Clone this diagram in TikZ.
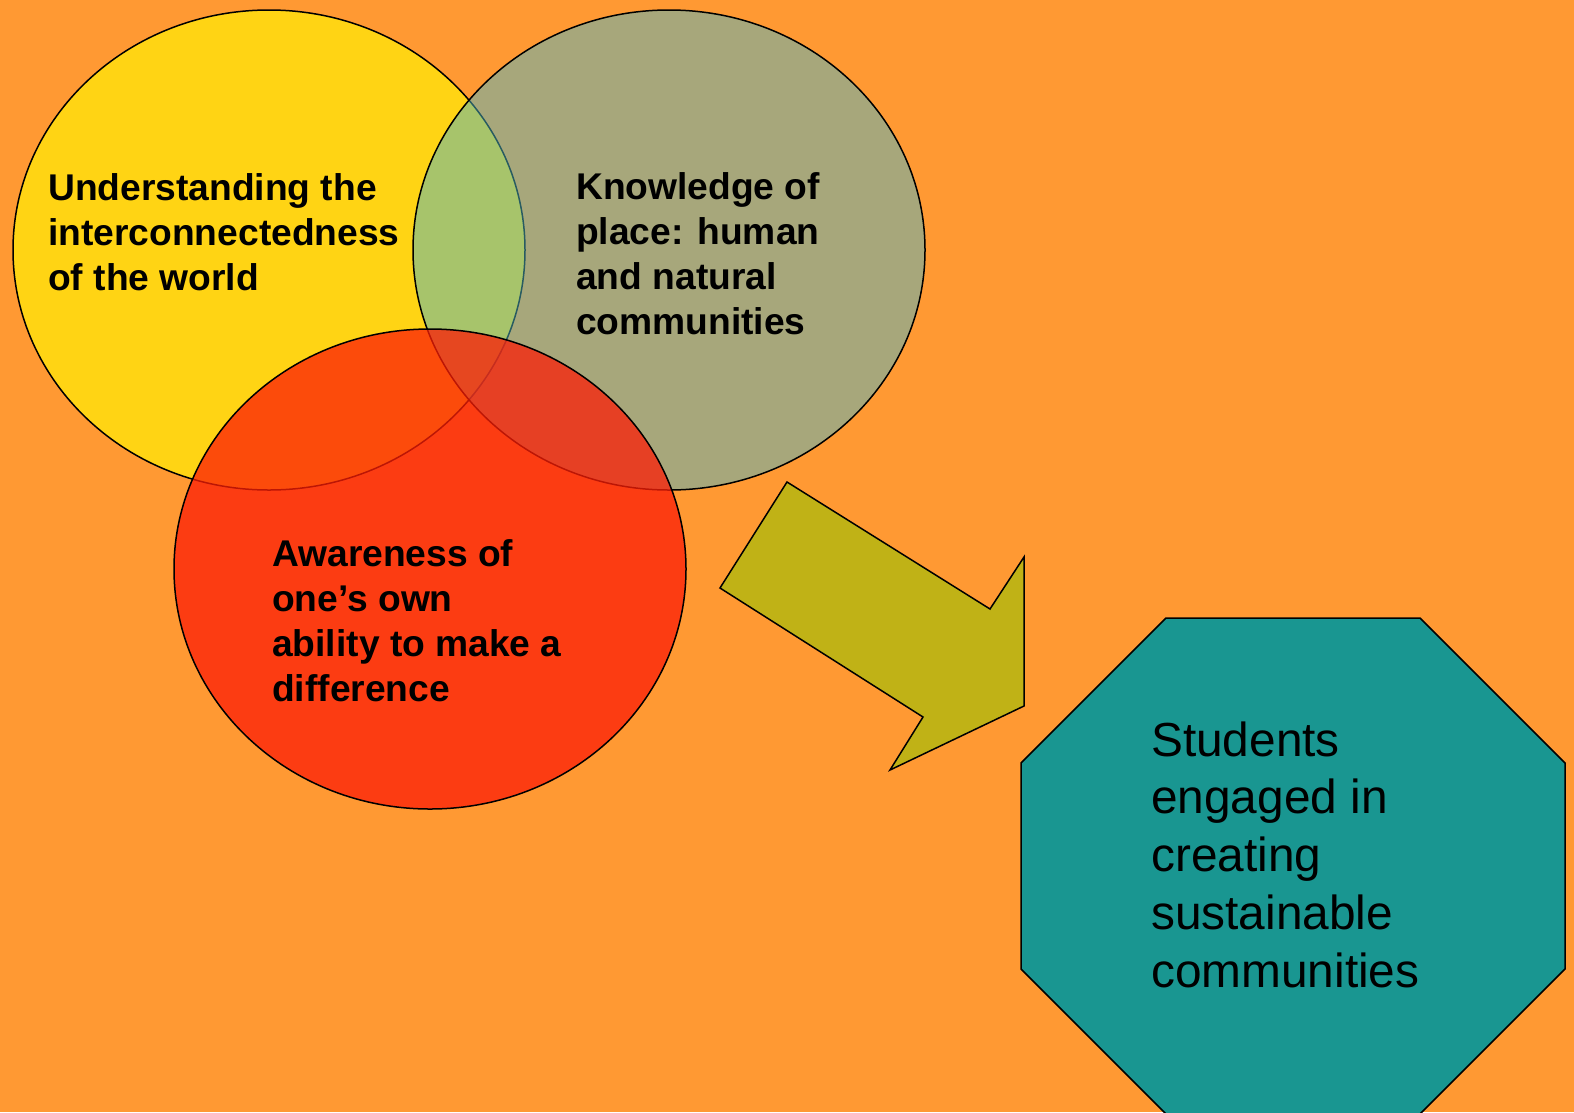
\documentclass[tikz,border=0pt]{standalone}
\usepackage{fontspec}
\setmainfont{Liberation Sans}
\usepackage{tikz}
\usetikzlibrary{shapes.geometric}
\definecolor{bgorange}{RGB}{255,153,51}
\definecolor{venyellow}{RGB}{255,212,20}
\definecolor{venteal}{RGB}{80,182,195}
\definecolor{venred}{RGB}{252,30,8}
\definecolor{arrowolive}{RGB}{192,178,22}
\definecolor{goalteal}{RGB}{25,150,145}

\begin{document}
\begin{tikzpicture}[x=1pt, y=-1pt,
    every ellipse node/.style={draw, line width=1.5pt, minimum width=512pt, minimum height=480pt, inner sep=0pt},
    circletext/.style={anchor=base west, inner sep=0pt, align=left, font=\bfseries\fontsize{37.2}{44.8}\selectfont},
    goaltext/.style={anchor=base west, inner sep=0pt, align=left, font=\fontsize{47.8}{57.7}\selectfont}]
            \fill[bgorange] (0, 0) rectangle (1574, 1112);
            \useasboundingbox (0, 0) rectangle (1574, 1112);
            % the three circles
            \draw (269, 250) node[ellipse, fill=venyellow](world){};
            \draw (669, 250) node[ellipse, fill=venteal, fill opacity=0.5](place){};
            \draw (430, 569) node[ellipse, fill=venred, fill opacity=0.75](self){};
            % texts, placed at the baseline of their last line
            \draw (48, 290) node[circletext](worldtext){Understanding the\\interconnectedness\\of the world};
            \draw (576, 334) node[circletext](placetext){Knowledge of\\place: human\\and natural\\communities};
            \draw (272, 701) node[circletext](selftext){Awareness of\\one’s own\\ability to make a\\difference};
            % arrow
            \draw[line width=1.5pt, fill=arrowolive] (720, 588) -- (787, 482) -- (990, 609) -- (1024, 557)
                -- (1024, 706) -- (890, 770) -- (923, 717) -- cycle;
            % octagon
            \draw[line width=1.5pt, fill=goalteal] (1166, 618) -- (1420, 618) -- (1565, 763) -- (1565, 969)
                -- (1420, 1114) -- (1166, 1114) -- (1021, 969) -- (1021, 763) -- cycle;
            \draw (1151, 987) node[goaltext](goal){Students\\engaged in\\creating\\sustainable\\communities};
        \end{tikzpicture}
\end{document}
